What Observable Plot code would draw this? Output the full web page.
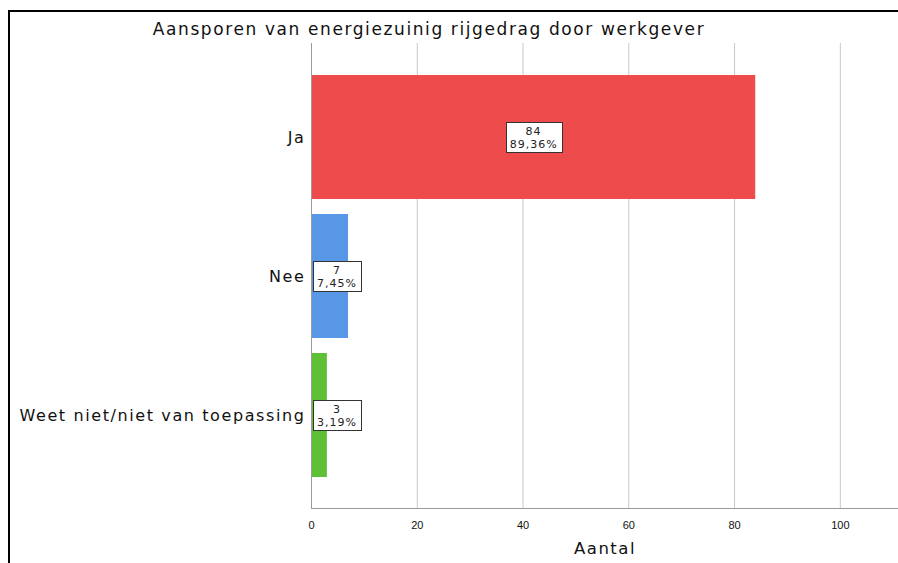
<!DOCTYPE html>
<html>
<head>
<meta charset="utf-8">
<script src="https://cdn.jsdelivr.net/npm/d3@7"></script>
<script src="https://cdn.jsdelivr.net/npm/@observablehq/plot@0.6"></script>
<style>
  html, body { margin: 0; background: #fff; overflow: hidden; }
  #wrap { position: relative; width: 898px; height: 563px; overflow: hidden; font-family: "DejaVu Sans", Verdana, sans-serif; }
  #frameTop { position: absolute; left: 8px; top: 10px; width: 890px; height: 2px; background: #000; }
  #frameLeft { position: absolute; left: 8px; top: 10px; width: 2px; height: 553px; background: #000; }
  #title { position: absolute; left: 0; top: 19px; width: 858px; text-align: center; font-size: 17px; letter-spacing: 1.6px; color: #111; white-space: nowrap; }
  #chart { position: absolute; left: 0; top: 0; width: 898px; height: 563px; }
  #chart svg { display: block; }
  #chart g[aria-label="y-axis tick label"] text { letter-spacing: 1.6px; }
  #chart text.wide { letter-spacing: 1.5px; }
  #chart text.vlab { letter-spacing: 1px; }
</style>
</head>
<body>
<div id="wrap">
  <div id="frameTop"></div>
  <div id="frameLeft"></div>
  <div id="chart"></div>
  <div id="title">Aansporen van energiezuinig rijgedrag door werkgever</div>
</div>
<script>
// Answer categories, counts and shares
const categories = ["Ja", "Nee", "Weet niet/niet van toepassing"];
const counts = [84, 7, 3];
const percents = [89.36, 7.45, 3.19];
const colors = ["#EE4B4D", "#5896E6", "#5DC035"];
const xTicks = [0, 20, 40, 60, 80, 100];

const data = categories.map((c, i) => ({cat: c, count: counts[i], pct: percents[i], color: colors[i]}));
const fmtPct = v => v.toFixed(2).replace(".", ",") + "%";

const chart = Plot.plot({
  width: 898,
  height: 563,
  marginTop: 43,
  marginBottom: 55,
  marginLeft: 311,
  marginRight: 0,
  style: { fontFamily: "DejaVu Sans, Verdana, sans-serif", background: "transparent", overflow: "visible" },
  x: { domain: [0, 111], label: null },
  y: { domain: categories, paddingInner: 0.11, paddingOuter: 0.224, label: null },
  color: { type: "identity" },
  marks: [
    Plot.gridX(xTicks.slice(1), { stroke: "#c8c8c8", strokeOpacity: 1 }),
    Plot.barX(data, { y: "cat", x: "count", fill: "color" }),
    Plot.ruleX([0], { stroke: "#9a9a9a", strokeWidth: 1 }),
    Plot.frame({ anchor: "bottom", stroke: "#9a9a9a" }),
    Plot.axisX(xTicks, { tickSize: 0, tickPadding: 13, fontSize: 11, fontFamily: "Liberation Sans, Arial, sans-serif", label: null, fill: "#111" }),
    Plot.axisY({ tickSize: 0, tickPadding: 6, fontSize: 16, label: null, fill: "#111" }),
    Plot.text(["Aantal"], { frameAnchor: "bottom", dy: 45, fontSize: 16.5, fill: "#111" }),
    Plot.text(data, {
      y: "cat",
      x: d => d.count / 2,
      text: d => `${d.count}\n${fmtPct(d.pct)}`,
      fontSize: 11,
      lineHeight: 1.2,
      fill: "#222"
    })
  ]
});

document.getElementById("chart").append(chart);

const svg = chart.tagName.toLowerCase() === "svg" ? chart : chart.querySelector("svg");
const textGroups = svg.querySelectorAll('g[aria-label="text"]');
const titleGroup = textGroups[0];
const labelGroup = textGroups[textGroups.length - 1];
titleGroup.querySelectorAll("text").forEach(t => t.classList.add("wide"));
labelGroup.querySelectorAll("text").forEach(t => t.classList.add("vlab"));

// Boxed value labels: white box with dark border behind each label,
// kept just to the right of the zero axis when the bar is narrow.
const svgBox = svg.getBoundingClientRect();
const x0 = svgBox.left + 311;
const boxGroup = document.createElementNS("http://www.w3.org/2000/svg", "g");
labelGroup.parentNode.insertBefore(boxGroup, labelGroup);
const padX = 4, padY = 2;
labelGroup.querySelectorAll("text").forEach(t => {
  let b = t.getBoundingClientRect();
  const left = b.left - padX;
  const minLeft = x0 + 2;
  if (left < minLeft) {
    const shift = minLeft - left;
    t.setAttribute("transform", `translate(${shift},0) ${t.getAttribute("transform") || ""}`);
    b = t.getBoundingClientRect();
  }
  const r = document.createElementNS("http://www.w3.org/2000/svg", "rect");
  r.setAttribute("x", Math.round(b.left - svgBox.left - padX) + 0.5);
  r.setAttribute("y", Math.round(b.top - svgBox.top - padY) - 0.5);
  r.setAttribute("width", Math.round(b.width + 2 * padX));
  r.setAttribute("height", Math.round(b.height + 2 * padY));
  r.setAttribute("fill", "#fff");
  r.setAttribute("stroke", "#333");
  r.setAttribute("stroke-width", 1);
  boxGroup.append(r);
});
</script>
</body>
</html>
